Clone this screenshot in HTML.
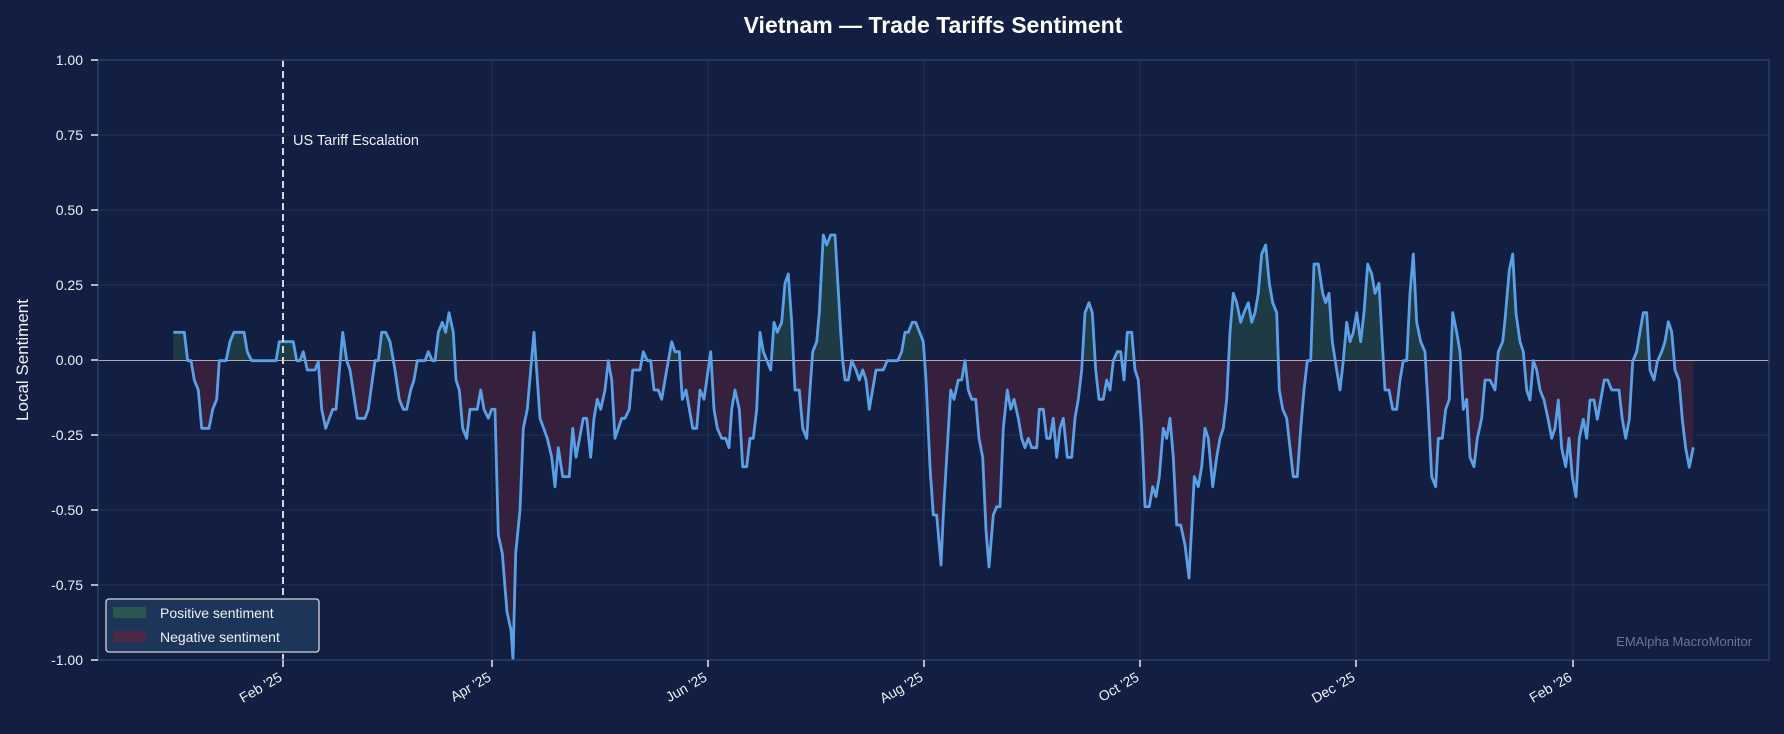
<!DOCTYPE html>
<html><head><meta charset="utf-8"><style>
html,body{margin:0;padding:0;background:#121f42;}
svg{display:block;font-family:"Liberation Sans","DejaVu Sans",sans-serif;}
</style></head><body>
<svg width="1784" height="734" viewBox="0 0 1784 734" xmlns="http://www.w3.org/2000/svg">
<rect width="1784" height="734" fill="#121f42"/>
<defs>
<clipPath id="up"><rect x="98" y="60" width="1671" height="300.5"/></clipPath>
<clipPath id="dn"><rect x="98" y="360.5" width="1671" height="300"/></clipPath>
<clipPath id="plot"><rect x="98" y="60" width="1671" height="600"/></clipPath>
</defs>
<!-- grid -->
<g stroke="#1e3356" stroke-width="1">
<line x1="98" y1="135" x2="1769" y2="135"/><line x1="98" y1="210" x2="1769" y2="210"/>
<line x1="98" y1="285" x2="1769" y2="285"/><line x1="98" y1="435" x2="1769" y2="435"/>
<line x1="98" y1="510" x2="1769" y2="510"/><line x1="98" y1="585" x2="1769" y2="585"/>
<line x1="492" y1="60" x2="492" y2="660"/><line x1="708" y1="60" x2="708" y2="660"/>
<line x1="924" y1="60" x2="924" y2="660"/><line x1="1140" y1="60" x2="1140" y2="660"/>
<line x1="1356" y1="60" x2="1356" y2="660"/><line x1="1573" y1="60" x2="1573" y2="660"/>
</g>
<g id="d">
<polygon id="fillpoly" points=""/>
</g>
<script>
var pts=[[173.3,332.3],[184.3,332.3],[187.7,360.7],[191,360.7],[194.3,380],[198.3,390],[201.7,428.3],[209,428.3],[212.7,409.3],[216.7,399.3],[219.3,360.7],[226,360.7],[230,341.7],[234,332.3],[244,332.3],[247.3,351.7],[251.7,360.7],[276,360.7],[279.3,341.7],[293.3,341.7],[296.7,360.7],[300,360.7],[303.3,351.7],[307.3,370],[315,370],[318.3,361.7],[321.7,409.3],[325.7,428.3],[332.7,409.3],[336,409.3],[342.7,332.3],[346.7,360.7],[350,370],[357.3,418.3],[365,418.3],[368.3,409.3],[375,360.7],[378.3,360.7],[381.7,332.3],[385.7,332.3],[390,341.7],[395,370],[399.3,399.3],[403.3,409.3],[406.7,409.3],[410.7,390],[414,380],[417.3,360.7],[425,360.7],[428.3,351.7],[432.3,360.7],[435,360.7],[438.3,332.3],[442.3,322.3],[445.7,332.3],[449,312.7],[453.3,332.3],[456,380],[459.3,390],[462.7,428.3],[466.7,438.3],[470,409.3],[477.3,409.3],[480.7,390],[484,409.3],[488.3,418.3],[491.7,409.3],[495,409.3],[498.3,535],[502.3,553.3],[507,612],[511,630],[513,660],[515.7,553.3],[520,510],[523.3,428.3],[527.3,409.3],[534,332.3],[540,418.3],[547.3,438.3],[551.7,457.3],[555,486.7],[558.3,447.7],[562.7,476.7],[569.3,476.7],[572.7,428.3],[576,457.3],[583.3,418.3],[586.7,418.3],[590.7,457.3],[594,418.3],[597.3,399.3],[600.7,409.3],[605,390],[608.3,360.7],[611.7,380],[615,438.3],[621.7,418.3],[625,418.3],[629.3,409.3],[632.7,370],[640,370],[643.3,351.7],[647.3,360.7],[650.7,360.7],[654,390],[658.3,390],[661.7,399.3],[666.7,370],[671.7,341.7],[675,351.7],[679.3,351.7],[682.3,399.3],[686,390],[692.7,428.3],[696.7,428.3],[700,390],[704,399.3],[710.7,351.7],[714,409.3],[717.3,428.3],[721.7,438.3],[725.7,438.3],[729,447.7],[731.7,409.3],[735,390],[739.3,409.3],[742.7,466.7],[746.7,466.7],[750,438.3],[753.3,438.3],[756.7,409.3],[760,332.3],[763.3,351.7],[770.7,370],[774,322.3],[777.3,332.3],[781.7,322.3],[785,283.3],[788.3,274],[791.7,322.3],[795,390],[799.3,390],[802.7,428.3],[806.7,438.3],[810,390],[812.7,351.7],[816.7,341.7],[819.3,312.7],[823.3,235],[826.7,245],[830.7,235],[835,235],[837.3,274],[840.7,332.3],[842.7,360.7],[845,380],[848.3,380],[851.7,360.7],[856,370],[859.3,380],[862.7,370],[866,380],[869.3,409.3],[876,370],[883.3,370],[887.3,360.7],[897.7,360.7],[901.7,351.7],[905,332.3],[908.3,332.3],[912.3,322.3],[915.7,322.3],[923.3,341.7],[926,380],[930,466.7],[933.3,515],[936.7,515],[941,565],[943.3,515],[946.7,457.3],[950.7,390],[954,399.3],[958.3,380],[961.7,380],[965,360.7],[968.3,390],[971.7,399.3],[975.7,399.3],[979,438.3],[982.7,457.3],[986,530],[989,567],[993.3,515],[996.7,506.7],[1000,506.7],[1003.3,428.3],[1007.3,390],[1010.7,409.3],[1014,399.3],[1018.3,418.3],[1021.7,438.3],[1025,447.7],[1028.3,438.3],[1031.7,447.7],[1036.7,447.7],[1039.3,409.3],[1043.3,409.3],[1046.7,438.3],[1050,438.3],[1053.3,418.3],[1056.7,457.3],[1060,428.3],[1063.3,418.3],[1067.3,457.3],[1071.7,457.3],[1075,418.3],[1078.3,399.3],[1081.7,370],[1085,312.7],[1089,302.7],[1092.3,312.7],[1095.7,370],[1099,399.3],[1103.3,399.3],[1106.7,380],[1110,390],[1113.3,360.7],[1117.3,351.7],[1120.7,351.7],[1124,380],[1127.3,332.3],[1131.7,332.3],[1135,370],[1138.3,380],[1141.7,428.3],[1145,506.7],[1149.3,506.7],[1152.7,486.7],[1156,496.7],[1159.3,476.7],[1163.3,428.3],[1166.7,438.3],[1170,418.3],[1173.3,457.3],[1176.7,525],[1180.7,525],[1185,545],[1189,578],[1194.3,476.7],[1198.3,486.7],[1201.7,466.7],[1205,428.3],[1208.3,438.3],[1212.7,486.7],[1216.7,457.3],[1220,438.3],[1223.3,428.3],[1226.7,399.3],[1230,332.3],[1233.3,293.3],[1236.7,302.7],[1240.7,322.3],[1244,312.7],[1248.3,302.7],[1251.7,322.3],[1255,312.7],[1258.3,293.3],[1261.7,254],[1265.7,245],[1269.3,283.3],[1272.7,302.7],[1276.7,312.7],[1279.3,390],[1282.7,409.3],[1286.7,418.3],[1290,447.7],[1293.3,476.7],[1297.3,476.7],[1300.7,428.3],[1304,390],[1307.3,360.7],[1310.7,360.7],[1314,264],[1318.3,264],[1322.7,293.3],[1325.7,302.7],[1329,293.3],[1332.3,341.7],[1336.7,370],[1340,390],[1343.3,360.7],[1346.7,322.3],[1350,341.7],[1353.3,332.3],[1356.7,312.7],[1360.7,341.7],[1364,312.7],[1367.7,264],[1371.7,274],[1375,293.3],[1379,283.3],[1381.7,332.3],[1385,390],[1389,390],[1392.7,409.3],[1396.7,409.3],[1400,380],[1403.3,360.7],[1406.7,360.7],[1410,293.3],[1413.3,254],[1416.7,322.3],[1420.7,341.7],[1425,351.7],[1428.3,409.3],[1431.7,476.7],[1435.7,486.7],[1438.3,438.3],[1442.3,438.3],[1445.7,409.3],[1449.3,399.3],[1452.7,312.7],[1456.7,332.3],[1460,351.7],[1463.3,409.3],[1466.7,399.3],[1470,457.3],[1474,466.7],[1477.3,438.3],[1481.7,418.3],[1485,380],[1490,380],[1495,390],[1498.3,351.7],[1502.7,341.7],[1505,320],[1509.3,270],[1512.7,254],[1516,313.3],[1520,341.7],[1523.3,351.7],[1526.7,390],[1530,400],[1533.3,360.7],[1536.7,370],[1540,390],[1544,400],[1548.3,420],[1551.7,438.3],[1555,428.3],[1558.3,400],[1561.7,448.3],[1565.7,466.7],[1569,438.3],[1572.3,476.7],[1576,496.7],[1579.3,438.3],[1583.3,419.3],[1586.7,438.3],[1590,400],[1594,400],[1597.3,419.3],[1600.7,400],[1604.3,380],[1607.7,380],[1611.7,390],[1619,390],[1622.3,419.3],[1625.7,438.3],[1629.3,419.3],[1632.7,361.7],[1636.7,351.7],[1640,331.7],[1643.3,312.7],[1646.7,312.7],[1650,370],[1654,380],[1657.3,361.7],[1661.7,351.7],[1665,341.7],[1668.3,321.7],[1671.7,331.7],[1675,370],[1679,380],[1682.3,419.3],[1685.7,448.3],[1689.3,467.3],[1693.3,447.3]];
var s=pts.map(function(p){return p[0]+","+p[1];}).join(" ");
var f="173.3,360.5 "+s+" 1693.3,360.5";
var ns="http://www.w3.org/2000/svg";
var g=document.getElementById("d");
g.innerHTML="";
function mk(tag,attrs){var e=document.createElementNS(ns,tag);for(var k in attrs)e.setAttribute(k,attrs[k]);g.appendChild(e);return e;}
mk("polygon",{points:f,fill:"#1d3a45","clip-path":"url(#up)"});
mk("polygon",{points:f,fill:"#35213e","clip-path":"url(#dn)"});
mk("line",{x1:98,y1:360.5,x2:1769,y2:360.5,stroke:"#b9a9b8","stroke-width":1});
mk("polyline",{points:s,fill:"none",stroke:"#5aa0e6","stroke-width":2.8,"stroke-linejoin":"round","clip-path":"url(#plot)"});
</script>
<!-- event line -->
<line x1="283" y1="60" x2="283" y2="660" stroke="#d4d7de" stroke-width="2" stroke-dasharray="7,4"/>
<text x="293" y="145" font-size="14.5" fill="#eef0f4">US Tariff Escalation</text>
<!-- spines -->
<rect x="98" y="60" width="1671" height="600" fill="none" stroke="#274066" stroke-width="1.5"/>
<!-- y ticks -->
<g stroke="#e6e8ee" stroke-width="1.5">
<line x1="91" y1="60" x2="98" y2="60"/><line x1="91" y1="135" x2="98" y2="135"/><line x1="91" y1="210" x2="98" y2="210"/>
<line x1="91" y1="285" x2="98" y2="285"/><line x1="91" y1="360" x2="98" y2="360"/><line x1="91" y1="435" x2="98" y2="435"/>
<line x1="91" y1="510" x2="98" y2="510"/><line x1="91" y1="585" x2="98" y2="585"/><line x1="91" y1="660" x2="98" y2="660"/>
</g>
<g font-size="14" fill="#eef0f4" text-anchor="end">
<text x="83" y="65">1.00</text><text x="83" y="140">0.75</text><text x="83" y="215">0.50</text>
<text x="83" y="290">0.25</text><text x="83" y="365">0.00</text><text x="83" y="440">-0.25</text>
<text x="83" y="515">-0.50</text><text x="83" y="590">-0.75</text><text x="83" y="665">-1.00</text>
</g>
<text transform="translate(28,360) rotate(-90)" text-anchor="middle" font-size="17" fill="#eef0f4">Local Sentiment</text>
<!-- x ticks -->
<g stroke="#e6e8ee" stroke-width="1.5">
<line x1="283" y1="660" x2="283" y2="667"/><line x1="492" y1="660" x2="492" y2="667"/><line x1="708" y1="660" x2="708" y2="667"/>
<line x1="924" y1="660" x2="924" y2="667"/><line x1="1140" y1="660" x2="1140" y2="667"/><line x1="1356" y1="660" x2="1356" y2="667"/>
<line x1="1573" y1="660" x2="1573" y2="667"/>
</g>
<g font-size="14" fill="#eef0f4" text-anchor="end">
<text transform="translate(283,680) rotate(-30)">Feb '25</text>
<text transform="translate(492,680) rotate(-30)">Apr '25</text>
<text transform="translate(708,680) rotate(-30)">Jun '25</text>
<text transform="translate(924,680) rotate(-30)">Aug '25</text>
<text transform="translate(1140,680) rotate(-30)">Oct '25</text>
<text transform="translate(1356,680) rotate(-30)">Dec '25</text>
<text transform="translate(1573,680) rotate(-30)">Feb '26</text>
</g>
<!-- title -->
<text x="933" y="33" text-anchor="middle" font-size="23" font-weight="bold" fill="#ffffff">Vietnam — Trade Tariffs Sentiment</text>
<!-- legend -->
<rect x="106" y="599" width="213" height="53" rx="3" fill="#1e355a" stroke="#d4d7de" stroke-width="1.3"/>
<rect x="113" y="607" width="33" height="11" fill="#2b5650"/>
<rect x="113" y="631" width="33" height="11" fill="#4c2a46"/>
<text x="160" y="618" font-size="14" fill="#eef0f4">Positive sentiment</text>
<text x="160" y="642" font-size="14" fill="#eef0f4">Negative sentiment</text>
<!-- watermark -->
<text x="1752" y="646" text-anchor="end" font-size="13" fill="#6b7592">EMAlpha MacroMonitor</text>
</svg>
</body></html>
